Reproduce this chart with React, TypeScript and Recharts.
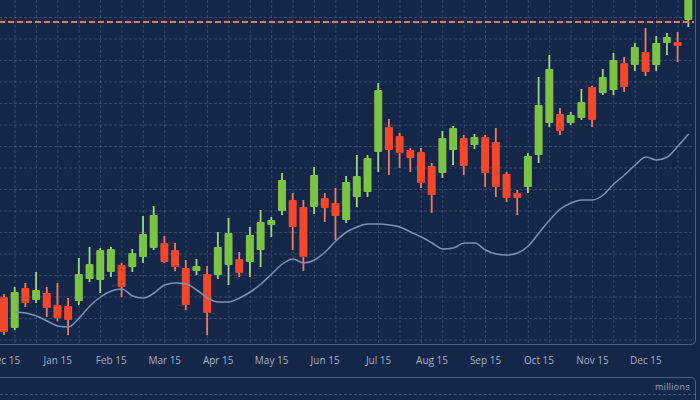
import { ComposedChart, Bar, Line, XAxis, YAxis, CartesianGrid, ReferenceLine } from 'recharts';

// month labels, one every 5 sessions
const months = ['Dec 15', 'Jan 15', 'Feb 15', 'Mar 15', 'Apr 15', 'May 15', 'Jun 15', 'Jul 15', 'Aug 15', 'Sep 15', 'Oct 15', 'Nov 15', 'Dec 15'];

const opens = [48, 17, 57, 45, 52, 40, 39, 44, 66, 65, 73, 80, 78, 88, 97, 102, 95, 77, 74, 71, 70, 80, 86, 83, 95, 120, 134, 145, 138, 138, 147, 142, 125, 148, 153, 193, 218, 209, 195, 193, 179, 172, 195, 207, 200, 208, 203, 171, 152, 158, 190, 222, 231, 222, 227, 258, 252, 255, 282, 280, 293, 280, 302, 303, 325];
const highs = [51, 58, 62, 73, 58, 62, 47, 87, 98, 97, 98, 82, 96, 129, 139, 109, 102, 85, 86, 79, 113, 127, 93, 118, 135, 128, 172, 152, 145, 178, 152, 157, 169, 190, 190, 262, 226, 212, 197, 197, 182, 214, 219, 210, 211, 210, 217, 173, 155, 192, 268, 290, 237, 233, 256, 259, 276, 292, 288, 302, 317, 309, 312, 313, 360];
const lows = [10, 15, 38, 42, 28, 24, 10, 40, 63, 52, 68, 48, 73, 82, 95, 82, 74, 35, 70, 10, 66, 60, 68, 68, 78, 108, 130, 95, 74, 131, 123, 105, 122, 138, 148, 173, 170, 177, 173, 157, 132, 167, 180, 170, 196, 158, 148, 143, 130, 152, 182, 218, 210, 220, 225, 218, 250, 250, 253, 274, 269, 274, 290, 283, 318];
const closes = [13, 53, 42, 55, 37, 27, 25, 71, 81, 95, 96, 58, 92, 111, 130, 83, 78, 40, 79, 32, 98, 112, 72, 110, 123, 125, 165, 118, 88, 170, 137, 129, 163, 169, 187, 255, 195, 192, 187, 162, 150, 207, 217, 179, 208, 172, 158, 147, 147, 189, 240, 276, 214, 230, 243, 225, 268, 285, 258, 298, 273, 302, 308, 299, 347];
// smoothed average line
const average = [null, 33, 32, 29, 24, 19, 18, 27, 39, 48, 54, 56, 49, 47, 52, 60, 62, 61, 55, 47, 43, 43, 47, 53, 61, 71, 81, 86, 82, 85, 93, 104, 113, 118, 121, 121, 120, 118, 113, 108, 102, 96, 97, 102, 102, 95, 91, 90, 92, 99, 112, 125, 136, 142, 145, 145, 150, 161, 170, 180, 188, 185, 188, 199, 211];
const resistance = 323;

const data = opens.map((open, i) => ({
  i,
  open,
  high: highs[i],
  low: lows[i],
  close: closes[i],
  avg: average[i],
}));

const GREEN = '#7cc243';
const RED = '#f3472c';
const BG = '#142749';
const BORDER = 'rgba(140,165,205,0.45)';

function Candle(props: any) {
  const { x, y, width, height, payload } = props;
  if (x == null || y == null) return null;
  const { open, close, high, low } = payload;
  const top = Math.min(y, y + height);
  const h = Math.abs(height);
  const px = (v: number) => top + ((high - v) / (high - low)) * h;
  const up = close >= open;
  const color = up ? GREEN : RED;
  const cx = x + width / 2;
  const bodyTop = px(Math.max(open, close));
  const bodyBot = px(Math.min(open, close));
  return (
    <g>
      <rect x={cx - 0.9} y={top} width={1.8} height={h} fill={up ? '#a3d681' : '#ef7b66'} />
      <rect x={x} y={bodyTop} width={width} height={Math.max(bodyBot - bodyTop, 2)} fill={color} rx={1} />
    </g>
  );
}

export default function App() {
  return (
    <div style={{ position: 'fixed', left: 0, top: 0, width: 700, height: 400, background: BG, overflow: 'hidden', fontFamily: '"Open Sans", sans-serif' }}>
      <div style={{ position: 'absolute', left: -10, top: -10, width: 706, height: 355, boxSizing: 'border-box', border: `1.5px solid ${BORDER}`, borderRadius: 5 }} />
      <div style={{ position: 'absolute', left: -10, top: 377, width: 706, height: 40, boxSizing: 'border-box', border: `1.5px solid ${BORDER}`, borderRadius: 5 }} />
      <div style={{ position: 'absolute', left: 0, top: 394, width: 696, borderTop: '1px dashed rgba(140,165,205,0.35)' }} />
      <div style={{ position: 'absolute', right: 10, top: 380, fontSize: 9, color: '#98a6bf', letterSpacing: 0.3 }}>millions</div>
      <div style={{ position: 'absolute', left: -1, top: 0 }}>
        <ComposedChart width={695} height={377} data={data} margin={{ top: 0, right: 0, bottom: 0, left: 0 }}>
          <CartesianGrid
            stroke="rgba(130,160,210,0.28)"
            strokeDasharray="3 2"
            verticalCoordinatesGenerator={({ offset }: any) => {
              const step = offset.width / data.length;
              const out: number[] = [];
              for (let x = offset.left + step * 1.5; x < offset.left + offset.width; x += step * 2) out.push(x);
              return out;
            }}
            horizontalCoordinatesGenerator={({ offset }: any) => {
              const out: number[] = [];
              for (let y = offset.top + offset.height - 5; y > offset.top; y -= 21.5) out.push(y);
              return out;
            }}
          />
          <XAxis
            dataKey="i"
            type="category"
            interval={4}
            height={32}
            axisLine={false}
            tickLine={false}
            tickMargin={6}
            tickFormatter={(v: number) => months[v / 5] ?? ''}
            tick={{ fill: '#a3b0c6', fontSize: 10 }}
          />
          <YAxis hide domain={[0, 345]} allowDataOverflow />
          <ReferenceLine y={resistance} stroke="#ef7a45" strokeWidth={2} strokeDasharray="6 3" ifOverflow="extendDomain" />
          <Line type="monotone" dataKey="avg" stroke="#7d92b6" strokeWidth={1.5} dot={false} isAnimationActive={false} />
          <Bar dataKey={(d: any) => [d.low, d.high]} barSize={8} shape={<Candle />} isAnimationActive={false} />
        </ComposedChart>
      </div>
    </div>
  );
}
